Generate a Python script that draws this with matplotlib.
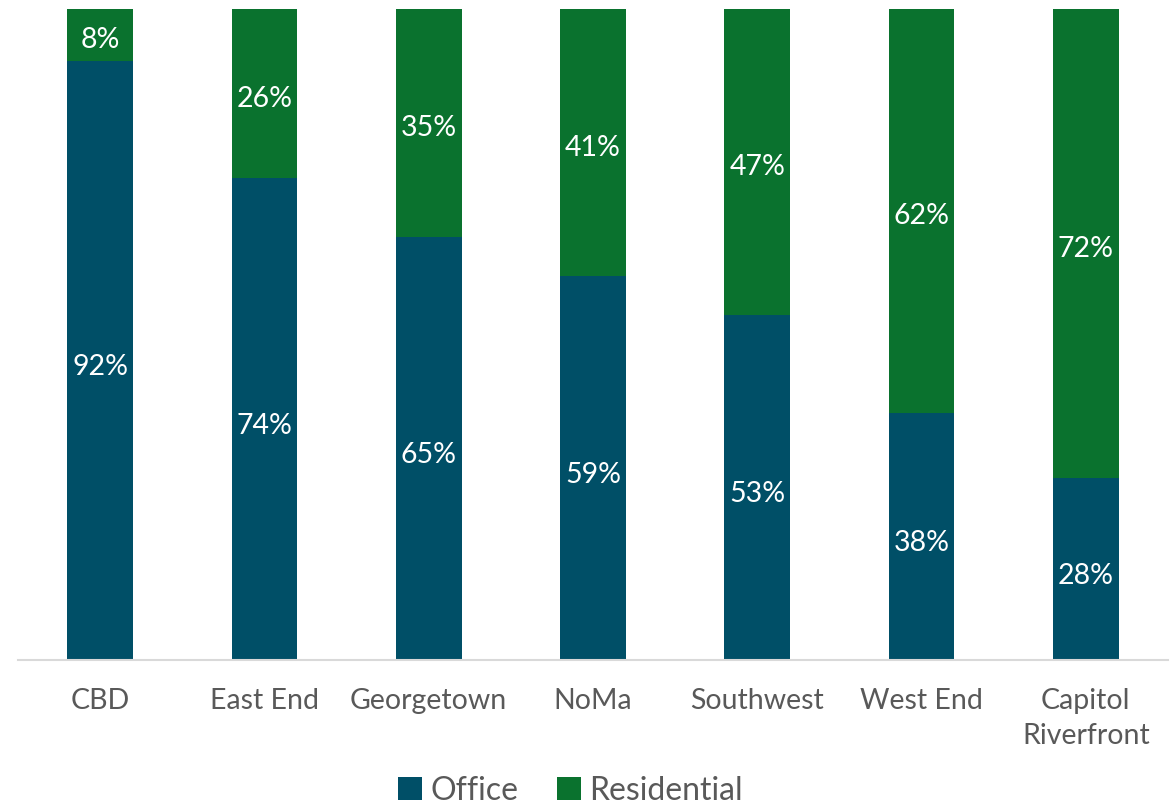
import matplotlib.pyplot as plt
import numpy as np

# data
areas = ['CBD', 'East End', 'Georgetown', 'NoMa', 'Southwest', 'West End', 'Capitol\nRiverfront']
office = [92, 74, 65, 59, 53, 38, 28]
residential = [8, 26, 35, 41, 47, 62, 72]

office_col = '#004F67'
res_col = '#0A722E'
txt_col = '#595959'

plt.rcParams['font.family'] = ['Lato', 'DejaVu Sans']

fig = plt.figure(figsize=(11.76, 8.11), dpi=100)
ax = fig.add_axes([18/1176, 151/811, 1150/1176, 651/811])

x = np.arange(len(areas))
w = 0.40
b1 = ax.bar(x, office, w, color=office_col, label='Office')
b2 = ax.bar(x, residential, w, bottom=office, color=res_col, label='Residential')

# value labels, centred in each segment
for i in range(len(areas)):
    ax.annotate(f'{office[i]}%', (x[i], office[i] / 2), xytext=(0, -3),
                textcoords='offset points', ha='center', va='center_baseline',
                color='white', fontsize=20.5)
    ax.annotate(f'{residential[i]}%', (x[i], office[i] + residential[i] / 2),
                xytext=(0, -2), textcoords='offset points', ha='center',
                va='center_baseline', color='white', fontsize=20.5)

ax.set_xlim(-0.5, len(areas) - 0.5)
ax.set_ylim(0, 100)
ax.set_yticks([])
ax.set_xticks(x)
ax.set_xticklabels(areas, fontsize=20.5, color=txt_col, linespacing=1.45)
ax.tick_params(axis='x', length=0, pad=20)
for s in ['top', 'right', 'left']:
    ax.spines[s].set_visible(False)
ax.spines['bottom'].set_color('#D9D9D9')
ax.spines['bottom'].set_linewidth(1.5)

fig.legend(handles=[b1, b2], loc='lower center', bbox_to_anchor=(0.485, -0.029), ncol=2,
           frameon=False, fontsize=23, handlelength=0.75, handleheight=0.75,
           handletextpad=0.25, columnspacing=1.2, labelcolor=txt_col)

fig.savefig('out.png', dpi=100)
